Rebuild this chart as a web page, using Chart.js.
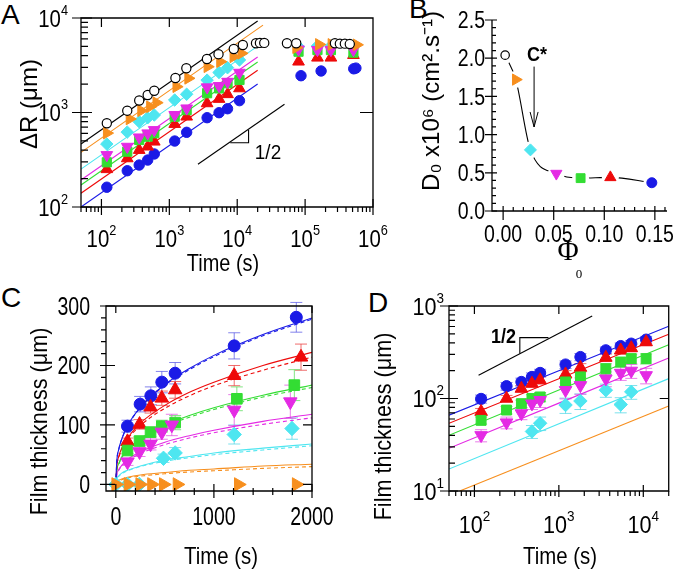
<!DOCTYPE html>
<html>
<head>
<meta charset="utf-8">
<script src="https://cdn.jsdelivr.net/npm/chart.js@4.4.1/dist/chart.umd.min.js"></script>
<style>
  body { margin: 0; background: #fff; width: 677px; height: 571px; position: relative; overflow: hidden; }
  canvas { position: absolute; }
  .letter { position: absolute; font: 28px 'Liberation Sans', Arial, sans-serif; line-height: 28px; color: #000; }
</style>
</head>
<body>
<div class="letter" style="left:1px;top:1px">A</div>
<div class="letter" style="left:409px;top:-5px">B</div>
<div class="letter" style="left:1px;top:284px">C</div>
<div class="letter" style="left:368px;top:289px">D</div>
<canvas id="chartA" width="400" height="280" style="left:0;top:0"></canvas>
<canvas id="chartB" width="277" height="280" style="left:400px;top:0"></canvas>
<canvas id="chartC" width="340" height="291" style="left:0;top:280px"></canvas>
<canvas id="chartD" width="337" height="291" style="left:340px;top:280px"></canvas>
<script>
// ---- panel A: spreading radius vs time (log-log) ----
const tA = [120, 240, 360, 480, 600, 1200, 1800, 3600, 5400, 7200, 10800];
const tALate = [80000, 152000, 240000, 515000];
const blackT = [120, 240, 360, 480, 600, 1230, 1780, 3580, 5300, 8900, 12100, 18900, 21600, 25000, 54000, 74000, 275000, 325000, 385000, 455000];
const blackR = [770, 1045, 1340, 1530, 1700, 2320, 2940, 3680, 4140, 4700, 5180, 5400, 5450, 5450, 5400, 5400, 5400, 5350, 5350, 5300];
const orangeT = [120, 260, 385, 520, 645, 1270, 1900, 3650, 5600, 8800, 11500, 74000, 160000, 245000, 575000];
const orangeR = [605, 855, 1045, 1150, 1270, 1875, 2300, 3050, 3450, 3890, 4230, 4850, 5250, 5250, 5200];
const cyanR = [464, 620, 800, 880, 940, 1355, 1560, 2200, 2650, 2980, 3600, 4970, 5050, 5050, 5100];
const magentaR = [355, 435, 546, 603, 653, 942, 1107, 1850, 1910, 2120, 2640, 4660, 4600, 4600, 4600];
const greenR = [297, 385, 512, 555, 603, 903, 1061, 1600, 1800, 2040, 2210, 4400, 4580, 4580, 4300];
const redR = [251, 327, 401, 435, 491, 755, 903, 1250, 1390, 1560, 1800, 3450, 3800, 3800, 4050];
const blueLateT = [87000, 172000, 520000, 560000];
const blueR = [162, 242, 278, 314, 364, 499, 617, 881, 995, 1096, 1334, 2450, 2750, 2900, 2950];
// fit lines (black, orange, cyan, magenta, green, red, blue)
const fitStartT = 50;
const fitStartA = [464, 379, 252, 193, 171, 140, 100];
const fitEndTA = [20000, 24000, 20000, 20000, 20000, 20000, 20000];
const fitEndA = [9280, 8400, 5040, 3860, 3420, 2800, 2000];
const slopeAT = [2640, 49700];
const slopeAR = [283, 1222];
const triAT = [7890, 14700, 14700];
const triAR = [479, 479, 653];
const ticksAX = [1e2, 1e3, 1e4, 1e5, 1e6];
const ticksAY = [1e2, 1e3, 1e4];

// ---- panel B: D0 vs phi0 ----
const phiB = [0.002, 0.0125, 0.027, 0.0526, 0.0766, 0.106, 0.147];
const d0B = [2.04, 1.72, 0.80, 0.49, 0.43, 0.44, 0.37];
const arrowB = { x: 0.0306, from: 1.89, to: 1.10 };
const ticksBX = [0, 0.05, 0.1, 0.15];
const ticksBY = [0, 0.5, 1, 1.5, 2, 2.5];

// ---- panel C: film thickness vs time (linear) ----
const blueCT = [119, 248, 357, 469, 605, 1207, 1840];
const blueC = [98, 135, 149, 172, 187, 233, 281];
const blueCErr = [10, 13, 15, 18, 18, 22, 25];
const redCT = [119, 242, 354, 469, 605, 1207, 1888];
const redC = [72, 101, 130, 145, 159, 183, 214];
const redCErr = [6, 8, 10, 12, 14, 17, 22];
const greenCT = [119, 242, 354, 469, 605, 1234, 1820];
const greenC = [57, 73, 88, 98, 104, 144, 167];
const greenCErr = [5, 7, 8, 10, 12, 20, 26];
const magentaCT = [119, 242, 354, 469, 571, 1207, 1779];
const magentaC = [38, 55, 68, 88, 100, 125, 139];
const magentaCErr = [6, 8, 10, 12, 18, 26, 28];
const cyanCT = [0, 120, 240, 486, 605, 1207, 1796];
const cyanC = [0, 0, 0, 44, 53, 84, 94];
const cyanCErr = [0, 0, 0, 7, 9, 16, 18];
const orangeCT = [0, 125, 245, 365, 485, 625, 1250, 1840];
const orangeC = [0, 0, 0, 0, 0, 0, 0, 0];
// model curves (solid / dashed)
const curveT = [0, 10, 30, 60, 120, 250, 500, 750, 1000, 1500, 2000];
const blueFit = [0, 39, 59, 76, 99, 130, 168, 195, 217, 252, 280];
const blueFitD = [0, 39, 59, 76, 98, 129, 167, 193, 215, 250, 278];
const redFit = [0, 31, 47, 61, 78, 103, 133, 155, 172, 200, 222];
const redFitD = [0, 30, 45, 58, 76, 99, 128, 149, 166, 192, 214];
const greenFit = [0, 24, 35, 46, 59, 77, 100, 116, 129, 150, 167];
const greenFitD = [0, 23, 34, 45, 58, 75, 98, 113, 126, 147, 163];
const magentaFit = [0, 17, 25, 32, 42, 55, 71, 82, 91, 106, 118];
const magentaFitD = [0, 16, 24, 31, 40, 52, 67, 78, 87, 101, 112];
const cyanFit = [0, 10, 14, 19, 24, 31, 41, 47, 53, 61, 68];
const cyanFitD = [0, 9, 14, 18, 23, 30, 39, 45, 50, 58, 65];
const orangeFit = [0, 5, 7, 9, 12, 16, 20, 24, 26, 31, 34];
const orangeFitD = [0, 4, 6, 8, 11, 14, 18, 21, 23, 27, 30];
const ticksCX = [0, 1000, 2000];
const ticksCY = [0, 100, 200, 300];

// ---- panel D: film thickness vs time (log-log) ----
const tD = [120, 240, 360, 480, 600, 1200, 1800, 3600, 5400, 7200, 10800];
const blueD = [99, 136, 151, 171, 189, 233, 281, 332, 369, 392, 433];
const blueDErr = [10, 13, 15, 18, 18, 22, 25, 28, 30, 32, 36];
const redD = [72, 100, 128, 145, 158, 183, 216, 277, 332, 352, 408];
const redDErr = [6, 8, 10, 12, 14, 17, 22, 26, 30, 32, 36];
const greenD = [58, 75, 88, 100, 104, 151, 171, 210, 248, 270, 270];
const greenDErr = [5, 7, 8, 10, 12, 20, 26, 28, 30, 32, 34];
const magentaD = [40, 55, 69, 88, 96, 123, 139, 164, 189, 199, 178];
const magentaDErr = [6, 8, 10, 12, 16, 24, 28, 30, 32, 34, 34];
const cyanDT = [480, 600, 1200, 1800, 3600, 5400, 7200];
const cyanD = [44, 54, 85, 94, 123, 86, 118];
const cyanDErr = [7, 9, 16, 18, 20, 16, 20];
// fit lines (blue, red, green, magenta, cyan, orange)
const fitDStartT = [50, 50, 50, 50, 50, 67];
const fitDStart = [66, 54, 40, 29, 17.3, 10];
const fitDEndT = 20000;
const fitDEnd = [603, 494, 382, 274, 164, 83];
const slopeDT = [112, 2480];
const slopeDY = [178, 778];
const triDT = [345, 345, 753];
const triDY = [306, 455, 455];
const ticksDX = [1e2, 1e3, 1e4];
const ticksDY = [10, 100, 1000];

// ---------------------------------------------------------------
const SANS = "'Liberation Sans', Arial, sans-serif";
const C = {
  black: '#000000', orange: '#f78f1e', cyan: '#4ee6f0', magenta: '#e42ae4',
  green: '#33dd33', red: '#ee0a0a', blue: '#1a1ae6'
};
const ERR = {
  blue: 'rgba(90,90,230,0.75)', red: 'rgba(235,60,60,0.75)', green: 'rgba(90,220,90,0.75)',
  magenta: 'rgba(225,80,225,0.75)', cyan: 'rgba(80,215,230,0.75)'
};
const SHAPE = {
  black: { s: 'circle', rot: 0, k: 1 }, blue: { s: 'circle', rot: 0, k: 1 },
  red: { s: 'triangle', rot: 0, k: 1.3 }, magenta: { s: 'triangle', rot: 180, k: 1.3 },
  orange: { s: 'triangle', rot: 90, k: 1.3 }, green: { s: 'rect', rot: 0, k: 1.25 },
  cyan: { s: 'rectRot', rot: 0, k: 1.2 }
};
const DIGITS = '0123456789';
const pow10 = v => ['10', DIGITS[Math.round(Math.log10(v))]];
const fixed = n => v => [v.toFixed(n)];
const plain = v => [String(v)];

const pts = (xs, ys) => xs.map((x, i) => ({ x, y: ys[i] }));

function markers(name, xs, ys, r, order, errors) {
  const sh = SHAPE[name];
  const open = name === 'black';
  return {
    data: pts(xs, ys), showLine: false, order,
    pointStyle: sh.s, pointRotation: sh.rot, pointRadius: r * sh.k,
    pointBackgroundColor: open ? '#fff' : C[name],
    pointBorderColor: C[name], pointBorderWidth: open ? 1.2 : 1,
    errors, errColor: ERR[name]
  };
}
function curve(xs, ys, color, order, dash) {
  return {
    data: pts(xs, ys), showLine: true, borderColor: color, borderWidth: 1.1,
    borderDash: dash || [], pointRadius: 0, cubicInterpolationMode: 'monotone', order
  };
}

function logMinors(lo, hi) {
  const out = [];
  for (let d = 1; d < hi; d *= 10) for (let k = 2; k <= 9; k++) { const v = d * k; if (v >= lo && v <= hi) out.push(v); }
  return out;
}
function linMinors(from, to, step, major) {
  const out = [];
  for (let v = from; v <= to + 1e-9; v += step) {
    const r = Math.round(v / step) * step;
    if (Math.abs(r / major - Math.round(r / major)) > 1e-6) out.push(r);
  }
  return out;
}

function axis(type, min, max, size) {
  return {
    type, min, max,
    grid: { display: false, drawTicks: false },
    border: { display: false },
    ticks: { display: false },
    afterFit: s => { if (s.isHorizontal()) s.height = size; else s.width = size; }
  };
}

// text with optional superscript, horizontally condensed by sx; y is the baseline
function drawText(ctx, parts, x, y, size, sx, align, weight) {
  const w8 = weight ? weight + ' ' : '';
  const es = Math.round(size * 0.62);
  ctx.font = w8 + size + 'px ' + SANS;
  const w1 = ctx.measureText(parts[0]).width;
  let w2 = 0;
  if (parts[1]) { ctx.font = w8 + es + 'px ' + SANS; w2 = ctx.measureText(parts[1]).width; }
  const w = (w1 + w2) * sx;
  const x0 = align === 'center' ? x - w / 2 : align === 'right' ? x - w : x;
  ctx.save();
  ctx.translate(x0, y);
  ctx.scale(sx, 1);
  ctx.textAlign = 'left';
  ctx.textBaseline = 'alphabetic';
  ctx.font = w8 + size + 'px ' + SANS;
  ctx.fillText(parts[0], 0, 0);
  if (parts[1]) { ctx.font = w8 + es + 'px ' + SANS; ctx.fillText(parts[1], w1, -size * 0.5); }
  ctx.restore();
}

// frame, tick marks, tick labels, error bars and text
function decor(cfg) {
  return {
    id: 'decor',
    beforeDatasetsDraw(chart) {
      const { ctx, scales } = chart;
      ctx.save();
      ctx.lineWidth = 1;
      chart.data.datasets.forEach((ds, i) => {
        if (!ds.errors) return;
        const meta = chart.getDatasetMeta(i);
        ctx.strokeStyle = ds.errColor;
        ctx.beginPath();
        ds.data.forEach((p, j) => {
          const e = ds.errors[j];
          if (!e) return;
          const x = meta.data[j].x;
          const y1 = scales.y.getPixelForValue(p.y - e);
          const y2 = scales.y.getPixelForValue(p.y + e);
          ctx.moveTo(x, y1); ctx.lineTo(x, y2);
          ctx.moveTo(x - 6, y1); ctx.lineTo(x + 6, y1);
          ctx.moveTo(x - 6, y2); ctx.lineTo(x + 6, y2);
        });
        ctx.stroke();
      });
      ctx.restore();
    },
    afterDraw(chart) {
      const { ctx, chartArea: a, scales } = chart;
      ctx.save();
      ctx.strokeStyle = '#000';
      ctx.fillStyle = '#000';
      ctx.lineWidth = 1.3;
      ctx.beginPath();
      if (cfg.box) ctx.rect(a.left, a.top, a.right - a.left, a.bottom - a.top);
      else { ctx.moveTo(a.left, a.top); ctx.lineTo(a.left, a.bottom); ctx.lineTo(a.right, a.bottom); }
      ctx.stroke();
      ctx.lineWidth = 1.2;
      ctx.beginPath();
      cfg.ticks.forEach(t => {
        const s = scales[t.axis];
        t.values.forEach(v => {
          const p = s.getPixelForValue(v);
          if (t.side === 'bottom' || t.side === 'top') {
            if (p < a.left - 0.5 || p > a.right + 0.5) return;
            const y0 = t.side === 'bottom' ? a.bottom : a.top;
            const dir = t.side === 'bottom' ? 1 : -1;
            ctx.moveTo(p, y0 - dir * t.inside); ctx.lineTo(p, y0 + dir * t.outside);
          } else {
            if (p < a.top - 0.5 || p > a.bottom + 0.5) return;
            const x0 = t.side === 'left' ? a.left : a.right;
            const dir = t.side === 'left' ? -1 : 1;
            ctx.moveTo(x0 - dir * t.inside, p); ctx.lineTo(x0 + dir * t.outside, p);
          }
        });
      });
      ctx.stroke();
      cfg.labels.forEach(l => {
        const s = scales[l.axis];
        l.values.forEach(v => {
          const p = s.getPixelForValue(v);
          if (l.axis === 'x') drawText(ctx, l.fmt(v), p, a.bottom + l.gap, l.size, l.sx, 'center');
          else drawText(ctx, l.fmt(v), a.left - l.gap, p + l.size * 0.36, l.size, l.sx, 'right');
        });
      });
      if (cfg.extra) cfg.extra(chart, ctx);
      (cfg.texts || []).forEach(tx => {
        ctx.save();
        ctx.translate(tx.x, tx.y);
        if (tx.rot) ctx.rotate(tx.rot * Math.PI / 180);
        if (tx.serif) {
          ctx.font = tx.size + 'px "Liberation Serif", serif';
          ctx.textAlign = 'center'; ctx.textBaseline = 'alphabetic';
          ctx.fillText(tx.text, 0, 0);
        } else {
          drawText(ctx, [tx.text], 0, tx.rot ? tx.size * 0.36 : 0, tx.size, tx.sx || 1, 'center', tx.weight);
        }
        ctx.restore();
      });
      ctx.restore();
    }
  };
}

function baseOptions(padding, x, y) {
  return {
    responsive: false, animation: false, devicePixelRatio: 1,
    layout: { padding },
    plugins: { legend: { display: false }, tooltip: { enabled: false } },
    scales: { x, y }
  };
}

// ---------------- A ----------------
const namesA = ['black', 'orange', 'cyan', 'magenta', 'green', 'red', 'blue'];
const tALong = tA.concat(tALate);
const dataA = [];
namesA.forEach((n, i) => {
  dataA.push(curve([fitStartT, fitEndTA[i]], [fitStartA[i], fitEndA[i]], C[n], 20));
});
dataA.push(curve(slopeAT, slopeAR, '#000', 20));
dataA.push(curve(triAT, triAR, '#000', 20));
dataA.push(markers('blue', tA.concat(blueLateT), blueR, 5.2, 9));
dataA.push(markers('red', tALong, redR, 5.2, 8));
dataA.push(markers('green', tALong, greenR, 5.2, 7));
dataA.push(markers('cyan', tALong, cyanR, 5.2, 6));
dataA.push(markers('magenta', tALong, magentaR, 5.2, 5));
dataA.push(markers('orange', orangeT, orangeR, 5.2, 4));
dataA.push(markers('black', blackT, blackR, 4.6, 3));

new Chart(document.getElementById('chartA'), {
  type: 'scatter',
  data: { datasets: dataA },
  options: baseOptions({ left: 0, right: 27, top: 18, bottom: 0 },
    axis('logarithmic', 50, 1e6, 73), axis('logarithmic', 100, 1e4, 81)),
  plugins: [decor({
    box: true,
    ticks: [
      { axis: 'x', side: 'bottom', values: ticksAX, inside: 8, outside: 8 },
      { axis: 'x', side: 'bottom', values: logMinors(50, 1e6), inside: 0, outside: 5 },
      { axis: 'x', side: 'top', values: ticksAX.slice(0, 4), inside: 9, outside: 0 },
      { axis: 'y', side: 'left', values: ticksAY, inside: 11, outside: 9 },
      { axis: 'y', side: 'left', values: logMinors(100, 1e4), inside: 7, outside: 0 },
      { axis: 'y', side: 'right', values: [1e3], inside: 13, outside: 0 }
    ],
    labels: [
      { axis: 'x', values: ticksAX, fmt: pow10, gap: 40, size: 24, sx: 0.85 },
      { axis: 'y', values: ticksAY, fmt: pow10, gap: 13, size: 24, sx: 0.85 }
    ],
    texts: [
      { text: 'ΔR (μm)', x: 28, y: 104, rot: -90, size: 24, sx: 1 },
      { text: 'Time (s)', x: 223, y: 271, size: 24, sx: 0.83 },
      { text: '1/2', x: 268, y: 159, size: 21, sx: 0.9 }
    ]
  })]
});

// ---------------- B ----------------
const namesB = ['black', 'orange', 'cyan', 'magenta', 'green', 'red', 'blue'];
const dataB = [curve(phiB, d0B, '#000', 30)];
dataB.push({ data: pts(phiB, d0B), showLine: false, order: 20, pointStyle: 'circle', pointRadius: 8.5,
  pointBackgroundColor: '#fff', pointBorderWidth: 0 });
namesB.forEach((n, i) => dataB.push(markers(n, [phiB[i]], [d0B[i]], n === 'black' ? 4.2 : 5, 10 - i)));

new Chart(document.getElementById('chartB'), {
  type: 'scatter',
  data: { datasets: dataB },
  options: baseOptions({ left: 0, right: 10, top: 20, bottom: 0 },
    axis('linear', -0.011, 0.162, 69), axis('linear', 0, 2.5, 92)),
  plugins: [decor({
    box: false,
    ticks: [
      { axis: 'x', side: 'bottom', values: ticksBX, inside: 5, outside: 9 },
      { axis: 'x', side: 'bottom', values: linMinors(0.01, 0.16, 0.01, 0.05), inside: 4, outside: 0 },
      { axis: 'y', side: 'left', values: ticksBY, inside: 5, outside: 7 },
      { axis: 'y', side: 'left', values: linMinors(0.1, 2.4, 0.1, 0.5), inside: 4, outside: 0 }
    ],
    labels: [
      { axis: 'x', values: ticksBX, fmt: fixed(2), gap: 31, size: 23, sx: 0.85 },
      { axis: 'y', values: ticksBY, fmt: fixed(1), gap: 7, size: 23, sx: 0.85 }
    ],
    extra: (chart, ctx) => {
      const xs = chart.scales.x, ys = chart.scales.y;
      const x = xs.getPixelForValue(arrowB.x);
      const y1 = ys.getPixelForValue(arrowB.from), y2 = ys.getPixelForValue(arrowB.to);
      ctx.lineWidth = 1;
      ctx.beginPath();
      ctx.moveTo(x, y1); ctx.lineTo(x, y2);
      ctx.moveTo(x - 4, y2 - 15); ctx.lineTo(x, y2); ctx.lineTo(x + 4, y2 - 15);
      ctx.stroke();
    },
    texts: [
      { text: 'D₀ x10⁶ (cm².s⁻¹)', x: 30, y: 101, rot: -90, size: 24, sx: 1 },
      { text: 'Φ', x: 168, y: 260, size: 29, serif: true },
      { text: '0', x: 179, y: 278, size: 13, serif: true },
      { text: 'C*', x: 137, y: 61, size: 20, sx: 0.9, weight: 'bold' }
    ]
  })]
});

// ---------------- C ----------------
const dataC = [
  curve(curveT, blueFit, C.blue, 20), curve(curveT, blueFitD, C.blue, 20, [4, 3]),
  curve(curveT, redFit, C.red, 20), curve(curveT, redFitD, C.red, 20, [4, 3]),
  curve(curveT, greenFit, C.green, 20), curve(curveT, greenFitD, C.green, 20, [4, 3]),
  curve(curveT, magentaFit, C.magenta, 20), curve(curveT, magentaFitD, C.magenta, 20, [4, 3]),
  curve(curveT, cyanFit, C.cyan, 20), curve(curveT, cyanFitD, C.cyan, 20, [4, 3]),
  curve(curveT, orangeFit, C.orange, 20), curve(curveT, orangeFitD, C.orange, 20, [4, 3]),
  markers('blue', blueCT, blueC, 6, 9, blueCErr),
  markers('red', redCT, redC, 6, 8, redCErr),
  markers('green', greenCT, greenC, 6, 7, greenCErr),
  markers('cyan', cyanCT, cyanC, 6, 6, cyanCErr),
  markers('magenta', magentaCT, magentaC, 6, 5, magentaCErr),
  markers('orange', orangeCT, orangeC, 6, 4)
];
new Chart(document.getElementById('chartC'), {
  type: 'scatter',
  data: { datasets: dataC },
  options: baseOptions({ left: 0, right: 28, top: 26, bottom: 0 },
    axis('linear', -100, 2000, 80), axis('linear', -11, 300, 106)),
  plugins: [decor({
    box: true,
    ticks: [
      { axis: 'x', side: 'bottom', values: ticksCX, inside: 7, outside: 7 },
      { axis: 'x', side: 'bottom', values: linMinors(200, 1800, 200, 1000), inside: 3, outside: 4 },
      { axis: 'x', side: 'top', values: ticksCX, inside: 7, outside: 0 },
      { axis: 'y', side: 'left', values: ticksCY, inside: 9, outside: 6 },
      { axis: 'y', side: 'left', values: linMinors(20, 280, 20, 100), inside: 0, outside: 5 },
      { axis: 'y', side: 'right', values: [0, 100, 200], inside: 9, outside: 0 }
    ],
    labels: [
      { axis: 'x', values: ticksCX, fmt: plain, gap: 34, size: 25, sx: 0.78 },
      { axis: 'y', values: ticksCY, fmt: plain, gap: 16, size: 25, sx: 0.78 }
    ],
    texts: [
      { text: 'Film thickness (μm)', x: 38, y: 141.5, rot: -90, size: 24, sx: 0.9 },
      { text: 'Time (s)', x: 221, y: 284, size: 24, sx: 0.85 }
    ]
  })]
});

// ---------------- D ----------------
const namesD = ['blue', 'red', 'green', 'magenta', 'cyan', 'orange'];
const dataD = [];
namesD.forEach((n, i) => dataD.push(curve([fitDStartT[i], fitDEndT], [fitDStart[i], fitDEnd[i]], C[n], 20)));
dataD.push(curve(slopeDT, slopeDY, '#000', 20));
dataD.push(curve(triDT, triDY, '#000', 20));
dataD.push(markers('blue', tD, blueD, 5.6, 9, blueDErr));
dataD.push(markers('red', tD, redD, 5.6, 8, redDErr));
dataD.push(markers('green', tD, greenD, 5.6, 7, greenDErr));
dataD.push(markers('cyan', cyanDT, cyanD, 5.6, 6, cyanDErr));
dataD.push(markers('magenta', tD, magentaD, 5.6, 5, magentaDErr));

new Chart(document.getElementById('chartD'), {
  type: 'scatter',
  data: { datasets: dataD },
  options: baseOptions({ left: 0, right: 5, top: 26, bottom: 0 },
    axis('logarithmic', 50, 20000, 80), axis('logarithmic', 10, 1000, 109)),
  plugins: [decor({
    box: true,
    ticks: [
      { axis: 'x', side: 'bottom', values: ticksDX, inside: 6, outside: 6 },
      { axis: 'x', side: 'bottom', values: logMinors(50, 20000), inside: 0, outside: 5 },
      { axis: 'x', side: 'top', values: ticksDX, inside: 8, outside: 0 },
      { axis: 'y', side: 'left', values: ticksDY, inside: 9, outside: 9 },
      { axis: 'y', side: 'left', values: logMinors(10, 1000), inside: 6, outside: 0 },
      { axis: 'y', side: 'right', values: [100], inside: 9, outside: 0 }
    ],
    labels: [
      { axis: 'x', values: ticksDX, fmt: pow10, gap: 42, size: 24, sx: 0.9 },
      { axis: 'y', values: ticksDY, fmt: pow10, gap: 5, size: 24, sx: 0.9 }
    ],
    texts: [
      { text: 'Film thickness (μm)', x: 42, y: 146.5, rot: -90, size: 24, sx: 0.9 },
      { text: 'Time (s)', x: 220, y: 284, size: 24, sx: 0.85 },
      { text: '1/2', x: 163.5, y: 63, size: 20, sx: 0.9, weight: 'bold' }
    ]
  })]
});
</script>
</body>
</html>
